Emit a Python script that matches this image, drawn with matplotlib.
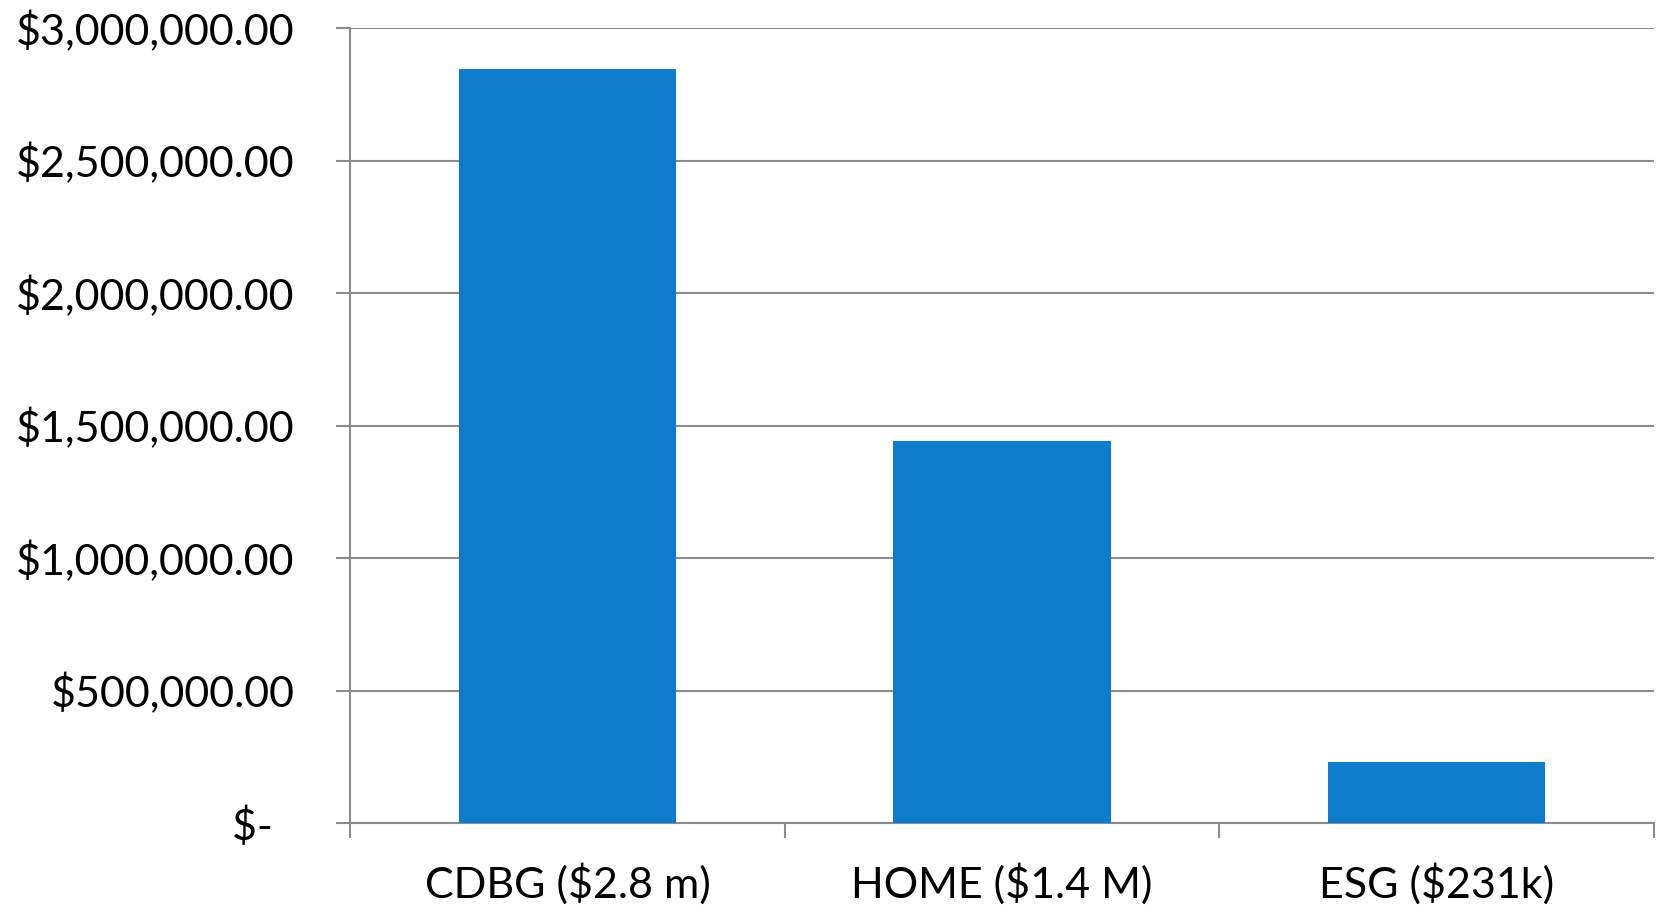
import matplotlib.pyplot as plt
from matplotlib.ticker import FuncFormatter

# ==========================================================
# Data
# ==========================================================

categories = ["CDBG ($2.8 m)", "HOME ($1.4 M)", "ESG ($231k)"]
amounts = [2845000, 1443000, 230000]
y_ticks = [0, 500000, 1000000, 1500000, 2000000, 2500000, 3000000]

BAR_COLOR = "#0E7BCC"
GRID_COLOR = "#8C8C8C"

plt.rcParams["font.family"] = ["Lato", "DejaVu Sans"]


def money(v, pos=None):
    if v == 0:
        return "$-  "
    return f"${v:,.2f}"


# ==========================================================
# Plot
# ==========================================================

fig = plt.figure(figsize=(16.59, 9.08), dpi=100)
ax = fig.add_axes([0.211, 0.0936, 0.786, 0.8755])

x = list(range(len(categories)))
ax.bar(x, amounts, width=0.5, color=BAR_COLOR, zorder=3)

ax.set_xlim(-0.5, len(categories) - 0.5)
ax.set_ylim(0, 3000000)
ax.set_yticks(y_ticks)
ax.yaxis.set_major_formatter(FuncFormatter(money))
ax.yaxis.grid(True, color=GRID_COLOR, linewidth=1.5, zorder=0)

ax.set_xticks(x)
ax.set_xticklabels(categories)
ax.set_xticks([i - 0.5 for i in range(len(categories) + 1)], minor=True)
ax.tick_params(axis="x", which="major", length=0, pad=29, labelsize=31)
ax.tick_params(axis="x", which="minor", length=11, width=1.5,
               color=GRID_COLOR, direction="out")
ax.tick_params(axis="y", length=10, width=1.5, color=GRID_COLOR,
               pad=30, labelsize=31)

for side in ["top", "right"]:
    ax.spines[side].set_visible(False)
for side in ["left", "bottom"]:
    ax.spines[side].set_color(GRID_COLOR)
    ax.spines[side].set_linewidth(1.5)

fig.savefig("out.png", dpi=100)
